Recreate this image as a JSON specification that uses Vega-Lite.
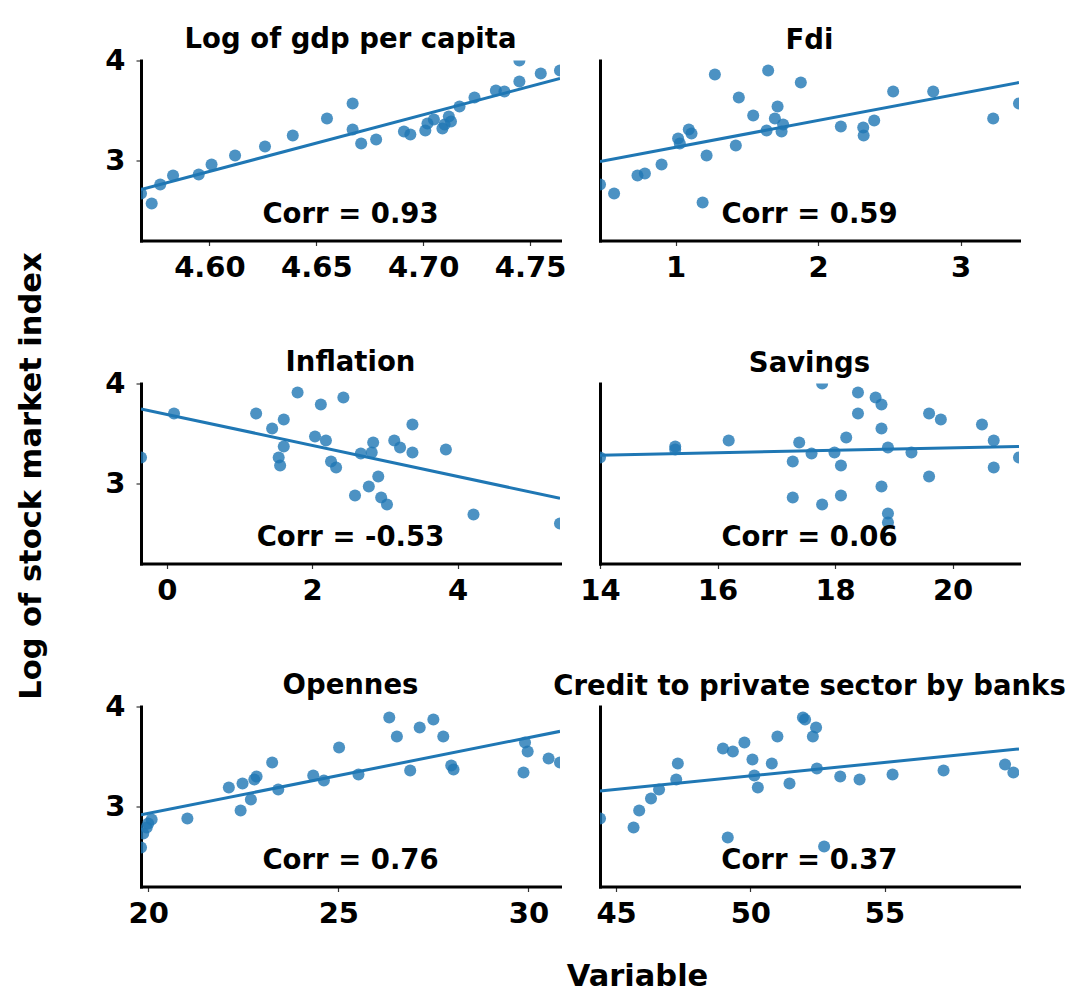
{
  "$schema": "https://vega.github.io/schema/vega-lite/v6.json",
  "padding": {"left": 17, "top": 25.5, "right": 0, "bottom": 0},
  "background": "white",
  "title": {"text": "Log of stock market index", "orient": "left", "anchor": "middle", "frame": "bounds", "fontSize": 30.5, "offset": 33, "dx": 33, "baseline": "alphabetic"},
  "datasets": {
    "gdp": [{"x":4.568,"y":2.67},{"x":4.573,"y":2.57},{"x":4.577,"y":2.76},{"x":4.583,"y":2.85},{"x":4.595,"y":2.86},{"x":4.601,"y":2.96},{"x":4.612,"y":3.05},{"x":4.626,"y":3.14},{"x":4.639,"y":3.25},{"x":4.655,"y":3.42},{"x":4.667,"y":3.57},{"x":4.667,"y":3.31},{"x":4.671,"y":3.17},{"x":4.678,"y":3.21},{"x":4.691,"y":3.29},{"x":4.694,"y":3.26},{"x":4.701,"y":3.30},{"x":4.702,"y":3.37},{"x":4.705,"y":3.41},{"x":4.709,"y":3.32},{"x":4.710,"y":3.36},{"x":4.712,"y":3.44},{"x":4.713,"y":3.39},{"x":4.717,"y":3.54},{"x":4.724,"y":3.63},{"x":4.734,"y":3.70},{"x":4.738,"y":3.69},{"x":4.745,"y":3.79},{"x":4.745,"y":4.00},{"x":4.755,"y":3.87},{"x":4.764,"y":3.90}],
    "fdi": [{"x":0.47,"y":2.76},{"x":0.569,"y":2.67},{"x":0.733,"y":2.85},{"x":0.785,"y":2.87},{"x":0.902,"y":2.96},{"x":1.018,"y":3.22},{"x":1.03,"y":3.17},{"x":1.093,"y":3.31},{"x":1.112,"y":3.27},{"x":1.19,"y":2.58},{"x":1.218,"y":3.05},{"x":1.276,"y":3.86},{"x":1.423,"y":3.15},{"x":1.444,"y":3.63},{"x":1.545,"y":3.45},{"x":1.639,"y":3.30},{"x":1.65,"y":3.90},{"x":1.697,"y":3.42},{"x":1.716,"y":3.54},{"x":1.744,"y":3.29},{"x":1.755,"y":3.36},{"x":1.879,"y":3.78},{"x":2.16,"y":3.34},{"x":2.317,"y":3.33},{"x":2.32,"y":3.25},{"x":2.394,"y":3.40},{"x":2.527,"y":3.69},{"x":2.808,"y":3.69},{"x":3.229,"y":3.42},{"x":3.41,"y":3.57}],
    "inf": [{"x":-0.354,"y":3.26},{"x":0.10,"y":3.70},{"x":1.23,"y":3.70},{"x":1.45,"y":3.55},{"x":1.54,"y":3.26},{"x":1.56,"y":3.18},{"x":1.61,"y":3.64},{"x":1.61,"y":3.37},{"x":1.80,"y":3.91},{"x":2.04,"y":3.47},{"x":2.12,"y":3.79},{"x":2.19,"y":3.43},{"x":2.26,"y":3.22},{"x":2.33,"y":3.16},{"x":2.43,"y":3.86},{"x":2.59,"y":2.88},{"x":2.67,"y":3.30},{"x":2.78,"y":2.97},{"x":2.82,"y":3.31},{"x":2.84,"y":3.41},{"x":2.91,"y":3.07},{"x":2.95,"y":2.86},{"x":3.03,"y":2.79},{"x":3.13,"y":3.43},{"x":3.21,"y":3.36},{"x":3.38,"y":3.59},{"x":3.38,"y":3.31},{"x":3.84,"y":3.34},{"x":4.22,"y":2.69},{"x":5.41,"y":2.60}],
    "sav": [{"x":14.0,"y":3.26},{"x":15.28,"y":3.37},{"x":15.28,"y":3.34},{"x":16.19,"y":3.43},{"x":17.28,"y":3.22},{"x":17.28,"y":2.86},{"x":17.39,"y":3.41},{"x":17.60,"y":3.30},{"x":17.78,"y":2.79},{"x":17.78,"y":4.0},{"x":17.99,"y":3.31},{"x":18.10,"y":3.18},{"x":18.10,"y":2.88},{"x":18.19,"y":3.46},{"x":18.39,"y":3.91},{"x":18.39,"y":3.70},{"x":18.69,"y":3.86},{"x":18.79,"y":3.79},{"x":18.79,"y":3.55},{"x":18.79,"y":2.97},{"x":18.90,"y":3.36},{"x":18.90,"y":2.70},{"x":18.90,"y":2.61},{"x":19.30,"y":3.31},{"x":19.60,"y":3.70},{"x":19.60,"y":3.07},{"x":19.80,"y":3.64},{"x":20.50,"y":3.59},{"x":20.70,"y":3.43},{"x":20.70,"y":3.16},{"x":21.13,"y":3.26}],
    "opn": [{"x":19.81,"y":2.59},{"x":19.87,"y":2.73},{"x":19.96,"y":2.79},{"x":20.0,"y":2.83},{"x":20.09,"y":2.87},{"x":21.03,"y":2.88},{"x":22.12,"y":3.19},{"x":22.43,"y":2.96},{"x":22.48,"y":3.23},{"x":22.70,"y":3.07},{"x":22.79,"y":3.27},{"x":22.85,"y":3.30},{"x":23.26,"y":3.44},{"x":23.42,"y":3.17},{"x":24.34,"y":3.31},{"x":24.62,"y":3.26},{"x":25.02,"y":3.59},{"x":25.53,"y":3.32},{"x":26.34,"y":3.89},{"x":26.54,"y":3.70},{"x":26.89,"y":3.36},{"x":27.14,"y":3.79},{"x":27.50,"y":3.87},{"x":27.76,"y":3.70},{"x":27.97,"y":3.41},{"x":28.03,"y":3.37},{"x":29.87,"y":3.34},{"x":29.91,"y":3.64},{"x":29.98,"y":3.55},{"x":30.53,"y":3.48},{"x":30.83,"y":3.44}],
    "cred": [{"x":44.40,"y":2.88},{"x":45.65,"y":2.79},{"x":45.86,"y":2.96},{"x":46.30,"y":3.08},{"x":46.60,"y":3.17},{"x":47.24,"y":3.27},{"x":47.30,"y":3.43},{"x":48.98,"y":3.58},{"x":49.16,"y":2.69},{"x":49.35,"y":3.55},{"x":49.78,"y":3.64},{"x":50.08,"y":3.47},{"x":50.15,"y":3.31},{"x":50.28,"y":3.19},{"x":50.80,"y":3.43},{"x":51.01,"y":3.70},{"x":51.46,"y":3.23},{"x":51.96,"y":3.89},{"x":52.04,"y":3.87},{"x":52.33,"y":3.70},{"x":52.45,"y":3.79},{"x":52.48,"y":3.38},{"x":52.75,"y":2.60},{"x":53.35,"y":3.30},{"x":54.07,"y":3.27},{"x":55.30,"y":3.32},{"x":57.20,"y":3.36},{"x":59.49,"y":3.42},{"x":59.80,"y":3.34}]
  },
  "columns": 2,
  "bounds": "flush",
  "spacing": {"row": 143, "column": 40},
  "concat": [
    {
      "title": {"text": "Log of gdp per capita", "offset": -7},
      "width": 419, "height": 180,
      "data": {"name": "gdp"},
      "layer": [
        {"mark": {"type": "point", "filled": true, "size": 145, "opacity": 0.8, "color": "#1f77b4", "clip": true},
         "encoding": {
           "x": {"field": "x", "type": "quantitative", "scale": {"domain": [4.568, 4.764], "nice": false, "zero": false}, "axis": {"title": null, "values": [4.60, 4.65, 4.70, 4.75], "format": ".2f"}},
           "y": {"field": "y", "type": "quantitative", "scale": {"domain": [2.2, 4.0], "nice": false, "zero": false}, "axis": {"title": null, "values": [3, 4], "format": "d", "labelPadding": 11}}}},
        {"mark": {"type": "line", "color": "#1f77b4", "strokeWidth": 3, "clip": true},
         "transform": [{"regression": "y", "on": "x", "extent": [4.568, 4.764]}],
         "encoding": {"x": {"field": "x", "type": "quantitative"}, "y": {"field": "y", "type": "quantitative"}}},
        {"data": {"values": [{"label": "Corr = 0.93"}]},
         "mark": {"type": "text", "fontSize": 27.5, "fontWeight": "bold", "font": "DejaVu Sans", "align": "center", "baseline": "alphabetic", "color": "black"},
         "encoding": {"x": {"datum": 4.666}, "y": {"datum": 2.38}, "text": {"field": "label"}}}
      ]
    },
    {
      "title": {"text": "Fdi", "offset": 6},
      "width": 419, "height": 180,
      "data": {"name": "fdi"},
      "layer": [
        {"mark": {"type": "point", "filled": true, "size": 145, "opacity": 0.8, "color": "#1f77b4", "clip": true},
         "encoding": {
           "x": {"field": "x", "type": "quantitative", "scale": {"domain": [0.47, 3.41], "nice": false, "zero": false}, "axis": {"title": null, "values": [1, 2, 3], "format": "d"}},
           "y": {"field": "y", "type": "quantitative", "scale": {"domain": [2.2, 4.0], "nice": false, "zero": false}, "axis": {"title": null, "labels": false, "ticks": false}}}},
        {"mark": {"type": "line", "color": "#1f77b4", "strokeWidth": 3, "clip": true},
         "transform": [{"regression": "y", "on": "x", "extent": [0.47, 3.41]}],
         "encoding": {"x": {"field": "x", "type": "quantitative"}, "y": {"field": "y", "type": "quantitative"}}},
        {"data": {"values": [{"label": "Corr = 0.59"}]},
         "mark": {"type": "text", "fontSize": 27.5, "fontWeight": "bold", "font": "DejaVu Sans", "align": "center", "baseline": "alphabetic", "color": "black"},
         "encoding": {"x": {"datum": 1.94}, "y": {"datum": 2.38}, "text": {"field": "label"}}}
      ]
    },
    {
      "title": {"text": "Inflation", "offset": -7},
      "width": 419, "height": 180,
      "data": {"name": "inf"},
      "layer": [
        {"mark": {"type": "point", "filled": true, "size": 145, "opacity": 0.8, "color": "#1f77b4", "clip": true},
         "encoding": {
           "x": {"field": "x", "type": "quantitative", "scale": {"domain": [-0.354, 5.41], "nice": false, "zero": false}, "axis": {"title": null, "values": [0, 2, 4], "format": "d"}},
           "y": {"field": "y", "type": "quantitative", "scale": {"domain": [2.2, 4.0], "nice": false, "zero": false}, "axis": {"title": null, "values": [3, 4], "format": "d", "labelPadding": 11}}}},
        {"mark": {"type": "line", "color": "#1f77b4", "strokeWidth": 3, "clip": true},
         "transform": [{"regression": "y", "on": "x", "extent": [-0.354, 5.41]}],
         "encoding": {"x": {"field": "x", "type": "quantitative"}, "y": {"field": "y", "type": "quantitative"}}},
        {"data": {"values": [{"label": "Corr = -0.53"}]},
         "mark": {"type": "text", "fontSize": 27.5, "fontWeight": "bold", "font": "DejaVu Sans", "align": "center", "baseline": "alphabetic", "color": "black"},
         "encoding": {"x": {"datum": 2.528}, "y": {"datum": 2.38}, "text": {"field": "label"}}}
      ]
    },
    {
      "title": {"text": "Savings", "offset": 6},
      "width": 419, "height": 180,
      "data": {"name": "sav"},
      "layer": [
        {"mark": {"type": "point", "filled": true, "size": 145, "opacity": 0.8, "color": "#1f77b4", "clip": true},
         "encoding": {
           "x": {"field": "x", "type": "quantitative", "scale": {"domain": [14.0, 21.13], "nice": false, "zero": false}, "axis": {"title": null, "values": [14, 16, 18, 20], "format": "d"}},
           "y": {"field": "y", "type": "quantitative", "scale": {"domain": [2.2, 4.0], "nice": false, "zero": false}, "axis": {"title": null, "labels": false, "ticks": false}}}},
        {"mark": {"type": "line", "color": "#1f77b4", "strokeWidth": 3, "clip": true},
         "transform": [{"regression": "y", "on": "x", "extent": [14.0, 21.13]}],
         "encoding": {"x": {"field": "x", "type": "quantitative"}, "y": {"field": "y", "type": "quantitative"}}},
        {"data": {"values": [{"label": "Corr = 0.06"}]},
         "mark": {"type": "text", "fontSize": 27.5, "fontWeight": "bold", "font": "DejaVu Sans", "align": "center", "baseline": "alphabetic", "color": "black"},
         "encoding": {"x": {"datum": 17.565}, "y": {"datum": 2.38}, "text": {"field": "label"}}}
      ]
    },
    {
      "title": {"text": "Opennes", "offset": -7},
      "width": 419, "height": 180,
      "data": {"name": "opn"},
      "layer": [
        {"mark": {"type": "point", "filled": true, "size": 145, "opacity": 0.8, "color": "#1f77b4", "clip": true},
         "encoding": {
           "x": {"field": "x", "type": "quantitative", "scale": {"domain": [19.81, 30.83], "nice": false, "zero": false}, "axis": {"title": "Variable", "values": [20, 25, 30], "format": "d", "titleFontSize": 30.5, "titleX": 496, "titleY": 99, "titleBaseline": "alphabetic", "titleAlign": "center"}},
           "y": {"field": "y", "type": "quantitative", "scale": {"domain": [2.2, 4.0], "nice": false, "zero": false}, "axis": {"title": null, "values": [3, 4], "format": "d", "labelPadding": 11}}}},
        {"mark": {"type": "line", "color": "#1f77b4", "strokeWidth": 3, "clip": true},
         "transform": [{"regression": "y", "on": "x", "extent": [19.81, 30.83]}],
         "encoding": {"x": {"field": "x", "type": "quantitative"}, "y": {"field": "y", "type": "quantitative"}}},
        {"data": {"values": [{"label": "Corr = 0.76"}]},
         "mark": {"type": "text", "fontSize": 27.5, "fontWeight": "bold", "font": "DejaVu Sans", "align": "center", "baseline": "alphabetic", "color": "black"},
         "encoding": {"x": {"datum": 25.32}, "y": {"datum": 2.38}, "text": {"field": "label"}}}
      ]
    },
    {
      "title": {"text": "Credit to private sector by banks", "offset": 6},
      "width": 419, "height": 180,
      "data": {"name": "cred"},
      "layer": [
        {"mark": {"type": "point", "filled": true, "size": 145, "opacity": 0.8, "color": "#1f77b4", "clip": true},
         "encoding": {
           "x": {"field": "x", "type": "quantitative", "scale": {"domain": [44.40, 60.01], "nice": false, "zero": false}, "axis": {"title": null, "values": [45, 50, 55], "format": "d"}},
           "y": {"field": "y", "type": "quantitative", "scale": {"domain": [2.2, 4.0], "nice": false, "zero": false}, "axis": {"title": null, "labels": false, "ticks": false}}}},
        {"mark": {"type": "line", "color": "#1f77b4", "strokeWidth": 3, "clip": true},
         "transform": [{"regression": "y", "on": "x", "extent": [44.40, 60.01]}],
         "encoding": {"x": {"field": "x", "type": "quantitative"}, "y": {"field": "y", "type": "quantitative"}}},
        {"data": {"values": [{"label": "Corr = 0.37"}]},
         "mark": {"type": "text", "fontSize": 27.5, "fontWeight": "bold", "font": "DejaVu Sans", "align": "center", "baseline": "alphabetic", "color": "black"},
         "encoding": {"x": {"datum": 52.2}, "y": {"datum": 2.38}, "text": {"field": "label"}}}
      ]
    }
  ],
  "config": {
    "view": {"stroke": null},
    "axis": {"grid": false, "domainColor": "black", "domainWidth": 3, "domainCap": "square", "tickColor": "#333333", "tickWidth": 1.2, "tickSize": 5, "labelFont": "DejaVu Sans", "labelFontWeight": "bold", "labelFontSize": 29, "labelColor": "black", "labelPadding": 8, "titleFont": "DejaVu Sans", "titleFontWeight": "bold", "titleFontSize": 30.5, "titleColor": "black", "labelFlush": false, "labelOverlap": false},
    "title": {"font": "DejaVu Sans", "fontWeight": "bold", "fontSize": 27.5, "color": "black", "anchor": "middle", "offset": 10, "baseline": "alphabetic"}
  }
}
